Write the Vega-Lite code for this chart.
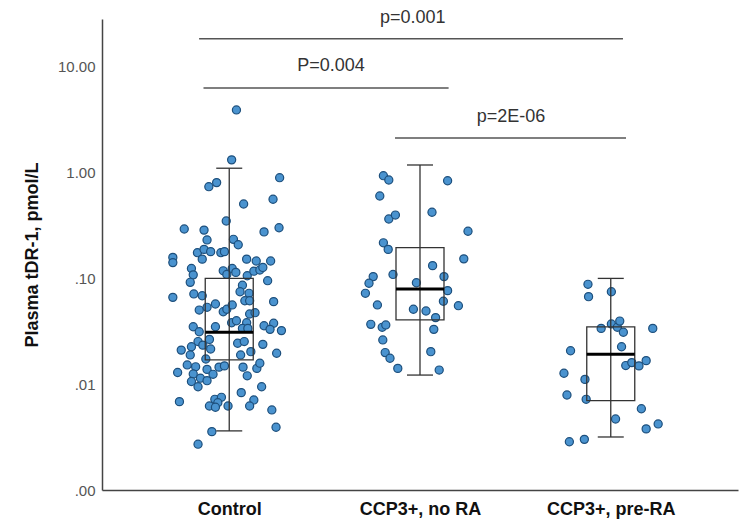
{
"$schema": "https://vega.github.io/schema/vega-lite/v6.json",
"width": 636, "height": 471,
"autosize": "none",
"padding": {"left": 102, "top": 19, "right": 4, "bottom": 40},
"background": "white",
"config": {"view": {"stroke": null}, "font": "Liberation Sans"},
"datasets": {
"points": [
{"group":"Control","value":3.91,"jitter":0.12},{"group":"Control","value":1.32,"jitter":0.04},{"group":"Control","value":0.895,"jitter":0.84},{"group":"Control","value":0.736,"jitter":-0.34},{"group":"Control","value":0.804,"jitter":-0.21},{"group":"Control","value":0.56,"jitter":0.73},{"group":"Control","value":0.505,"jitter":0.24},{"group":"Control","value":0.349,"jitter":-0.05},{"group":"Control","value":0.293,"jitter":-0.75},{"group":"Control","value":0.286,"jitter":-0.42},
{"group":"Control","value":0.301,"jitter":0.83},{"group":"Control","value":0.275,"jitter":0.58},{"group":"Control","value":0.231,"jitter":-0.37},{"group":"Control","value":0.234,"jitter":0.07},{"group":"Control","value":0.208,"jitter":0.15},{"group":"Control","value":0.158,"jitter":-0.94},{"group":"Control","value":0.141,"jitter":-0.94},{"group":"Control","value":0.175,"jitter":-0.53},{"group":"Control","value":0.188,"jitter":-0.42},{"group":"Control","value":0.179,"jitter":-0.31},
{"group":"Control","value":0.152,"jitter":-0.45},{"group":"Control","value":0.175,"jitter":-0.14},{"group":"Control","value":0.179,"jitter":-0.08},{"group":"Control","value":0.152,"jitter":0.29},{"group":"Control","value":0.146,"jitter":0.45},{"group":"Control","value":0.146,"jitter":0.69},{"group":"Control","value":0.124,"jitter":-0.63},{"group":"Control","value":0.108,"jitter":-0.6},{"group":"Control","value":0.0918,"jitter":-0.65},{"group":"Control","value":0.118,"jitter":-0.1},
{"group":"Control","value":0.109,"jitter":-0.04},{"group":"Control","value":0.124,"jitter":0.05},{"group":"Control","value":0.114,"jitter":0.11},{"group":"Control","value":0.106,"jitter":0.3},{"group":"Control","value":0.117,"jitter":0.41},{"group":"Control","value":0.12,"jitter":0.51},{"group":"Control","value":0.127,"jitter":0.56},{"group":"Control","value":0.0951,"jitter":0.64},{"group":"Control","value":0.0713,"jitter":-0.59},{"group":"Control","value":0.0685,"jitter":-0.45},
{"group":"Control","value":0.0662,"jitter":-0.94},{"group":"Control","value":0.0861,"jitter":0.22},{"group":"Control","value":0.0723,"jitter":0.33},{"group":"Control","value":0.0603,"jitter":0.74},{"group":"Control","value":0.0748,"jitter":0.18},{"group":"Control","value":0.0615,"jitter":0.26},{"group":"Control","value":0.0615,"jitter":0.34},{"group":"Control","value":0.0502,"jitter":-0.5},{"group":"Control","value":0.0533,"jitter":-0.37},{"group":"Control","value":0.0573,"jitter":-0.23},
{"group":"Control","value":0.0484,"jitter":-0.1},{"group":"Control","value":0.0511,"jitter":-0.04},{"group":"Control","value":0.0561,"jitter":0.05},{"group":"Control","value":0.0461,"jitter":0.34},{"group":"Control","value":0.0474,"jitter":0.43},{"group":"Control","value":0.0381,"jitter":0.04},{"group":"Control","value":0.0398,"jitter":0.12},{"group":"Control","value":0.0381,"jitter":0.29},{"group":"Control","value":0.0349,"jitter":-0.6},{"group":"Control","value":0.0313,"jitter":-0.5},
{"group":"Control","value":0.0349,"jitter":-0.23},{"group":"Control","value":0.0337,"jitter":0.22},{"group":"Control","value":0.0337,"jitter":0.31},{"group":"Control","value":0.0357,"jitter":0.58},{"group":"Control","value":0.0377,"jitter":0.74},{"group":"Control","value":0.033,"jitter":0.68},{"group":"Control","value":0.0321,"jitter":0.87},{"group":"Control","value":0.0265,"jitter":-0.33},{"group":"Control","value":0.0253,"jitter":-0.52},{"group":"Control","value":0.0244,"jitter":0.14},
{"group":"Control","value":0.0253,"jitter":0.25},{"group":"Control","value":0.0238,"jitter":0.56},{"group":"Control","value":0.021,"jitter":-0.8},{"group":"Control","value":0.0226,"jitter":-0.63},{"group":"Control","value":0.0234,"jitter":-0.44},{"group":"Control","value":0.0215,"jitter":-0.31},{"group":"Control","value":0.0189,"jitter":-0.65},{"group":"Control","value":0.0173,"jitter":-0.39},{"group":"Control","value":0.0189,"jitter":0.19},{"group":"Control","value":0.0203,"jitter":0.36},
{"group":"Control","value":0.0196,"jitter":0.79},{"group":"Control","value":0.0152,"jitter":-0.7},{"group":"Control","value":0.0146,"jitter":-0.56},{"group":"Control","value":0.0138,"jitter":-0.37},{"group":"Control","value":0.0145,"jitter":-0.17},{"group":"Control","value":0.0149,"jitter":-0.08},{"group":"Control","value":0.0145,"jitter":0.23},{"group":"Control","value":0.0141,"jitter":0.46},{"group":"Control","value":0.0158,"jitter":0.51},{"group":"Control","value":0.0129,"jitter":-0.86},
{"group":"Control","value":0.0125,"jitter":-0.6},{"group":"Control","value":0.0124,"jitter":-0.27},{"group":"Control","value":0.012,"jitter":0.3},{"group":"Control","value":0.0106,"jitter":-0.63},{"group":"Control","value":0.0114,"jitter":-0.48},{"group":"Control","value":0.0108,"jitter":-0.37},{"group":"Control","value":0.00946,"jitter":-0.52},{"group":"Control","value":0.00946,"jitter":0.54},{"group":"Control","value":0.00832,"jitter":0.2},{"group":"Control","value":0.00684,"jitter":-0.83},
{"group":"Control","value":0.0072,"jitter":-0.24},{"group":"Control","value":0.00752,"jitter":-0.13},{"group":"Control","value":0.00668,"jitter":-0.19},{"group":"Control","value":0.00622,"jitter":-0.33},{"group":"Control","value":0.00606,"jitter":-0.23},{"group":"Control","value":0.00622,"jitter":-0.02},{"group":"Control","value":0.0071,"jitter":0.41},{"group":"Control","value":0.00622,"jitter":0.34},{"group":"Control","value":0.00571,"jitter":0.71},{"group":"Control","value":0.00392,"jitter":0.78},
{"group":"Control","value":0.00356,"jitter":-0.29},{"group":"Control","value":0.00271,"jitter":-0.52},
{"group":"CCP3+, no RA","value":0.935,"jitter":-0.61},{"group":"CCP3+, no RA","value":0.851,"jitter":-0.52},{"group":"CCP3+, no RA","value":0.838,"jitter":0.46},{"group":"CCP3+, no RA","value":0.601,"jitter":-0.67},{"group":"CCP3+, no RA","value":0.422,"jitter":0.2},{"group":"CCP3+, no RA","value":0.364,"jitter":-0.52},{"group":"CCP3+, no RA","value":0.397,"jitter":-0.41},{"group":"CCP3+, no RA","value":0.279,"jitter":0.8},{"group":"CCP3+, no RA","value":0.217,"jitter":-0.61},{"group":"CCP3+, no RA","value":0.188,"jitter":-0.53},
{"group":"CCP3+, no RA","value":0.153,"jitter":0.73},{"group":"CCP3+, no RA","value":0.132,"jitter":0.21},{"group":"CCP3+, no RA","value":0.104,"jitter":-0.78},{"group":"CCP3+, no RA","value":0.09,"jitter":-0.85},{"group":"CCP3+, no RA","value":0.0723,"jitter":-0.91},{"group":"CCP3+, no RA","value":0.109,"jitter":-0.45},{"group":"CCP3+, no RA","value":0.091,"jitter":-0.06},{"group":"CCP3+, no RA","value":0.104,"jitter":0.4},{"group":"CCP3+, no RA","value":0.0766,"jitter":0.46},{"group":"CCP3+, no RA","value":0.0561,"jitter":-0.71},
{"group":"CCP3+, no RA","value":0.0608,"jitter":0.39},{"group":"CCP3+, no RA","value":0.0552,"jitter":0.64},{"group":"CCP3+, no RA","value":0.0511,"jitter":-0.11},{"group":"CCP3+, no RA","value":0.0492,"jitter":0.1},{"group":"CCP3+, no RA","value":0.0426,"jitter":0.26},{"group":"CCP3+, no RA","value":0.0368,"jitter":-0.82},{"group":"CCP3+, no RA","value":0.0345,"jitter":-0.63},{"group":"CCP3+, no RA","value":0.0363,"jitter":-0.57},{"group":"CCP3+, no RA","value":0.033,"jitter":0.23},{"group":"CCP3+, no RA","value":0.0262,"jitter":-0.62},
{"group":"CCP3+, no RA","value":0.0199,"jitter":-0.58},{"group":"CCP3+, no RA","value":0.0176,"jitter":-0.5},{"group":"CCP3+, no RA","value":0.0203,"jitter":0.18},{"group":"CCP3+, no RA","value":0.0141,"jitter":-0.37},{"group":"CCP3+, no RA","value":0.0136,"jitter":0.32},
{"group":"CCP3+, pre-RA","value":0.0879,"jitter":-0.38},{"group":"CCP3+, pre-RA","value":0.0672,"jitter":-0.37},{"group":"CCP3+, pre-RA","value":0.0748,"jitter":0.01},{"group":"CCP3+, pre-RA","value":0.0337,"jitter":-0.16},{"group":"CCP3+, pre-RA","value":0.0371,"jitter":0.01},{"group":"CCP3+, pre-RA","value":0.0345,"jitter":0.11},{"group":"CCP3+, pre-RA","value":0.0395,"jitter":0.15},{"group":"CCP3+, pre-RA","value":0.031,"jitter":0.21},{"group":"CCP3+, pre-RA","value":0.0337,"jitter":0.7},{"group":"CCP3+, pre-RA","value":0.0226,"jitter":0.18},
{"group":"CCP3+, pre-RA","value":0.0207,"jitter":-0.67},{"group":"CCP3+, pre-RA","value":0.015,"jitter":0.25},{"group":"CCP3+, pre-RA","value":0.016,"jitter":0.35},{"group":"CCP3+, pre-RA","value":0.0149,"jitter":0.47},{"group":"CCP3+, pre-RA","value":0.0167,"jitter":0.59},{"group":"CCP3+, pre-RA","value":0.0127,"jitter":-0.78},{"group":"CCP3+, pre-RA","value":0.0111,"jitter":-0.43},{"group":"CCP3+, pre-RA","value":0.00791,"jitter":-0.73},{"group":"CCP3+, pre-RA","value":0.0072,"jitter":-0.41},{"group":"CCP3+, pre-RA","value":0.00586,"jitter":0.51},
{"group":"CCP3+, pre-RA","value":0.00469,"jitter":0.08},{"group":"CCP3+, pre-RA","value":0.00378,"jitter":0.59},{"group":"CCP3+, pre-RA","value":0.00421,"jitter":0.79},{"group":"CCP3+, pre-RA","value":0.00286,"jitter":-0.69},{"group":"CCP3+, pre-RA","value":0.00301,"jitter":-0.44}
],
"boxes": [
{"group":"Control","lo":0.00362,"q1":0.017,"median":0.031,"q3":0.1,"hi":1.1},
{"group":"CCP3+, no RA","lo":0.0122,"q1":0.0405,"median":0.0794,"q3":0.195,"hi":1.18},
{"group":"CCP3+, pre-RA","lo":0.00317,"q1":0.007,"median":0.0192,"q3":0.0348,"hi":0.1}
],
"sig": [
{"label":"p=0.001","x1":0.842,"x2":3.064,"yline":18.4,"xtext":1.962,"ytext":29.2},
{"label":"P=0.004","x1":0.865,"x2":2.15,"yline":6.32,"xtext":1.534,"ytext":10.2},
{"label":"p=2E-06","x1":1.869,"x2":3.08,"yline":2.12,"xtext":2.477,"ytext":3.38}
]
},
"resolve": {"scale": {"x": "independent"}},
"layer": [
{
"layer": [
{
"data": {"name": "points"},
"mark": {"type": "circle", "size": 66, "fill": "#4a93cf", "stroke": "#1d4f7c", "strokeWidth": 1.2, "opacity": 1, "fillOpacity": 1},
"encoding": {
"x": {"field": "group", "type": "nominal", "scale": {"type": "point", "domain": ["Control", "CCP3+, no RA", "CCP3+, pre-RA"], "padding": 0.667},
"axis": {"title": null, "labelAngle": 0, "labelFont": "Liberation Sans", "labelFontSize": 18, "labelFontWeight": "bold", "labelColor": "#111", "ticks": false, "tickSize": 0, "labelPadding": 10, "domainColor": "#444", "domainWidth": 1.5, "grid": false}},
"xOffset": {"field": "jitter", "type": "quantitative", "scale": {"domain": [-1, 1], "range": [-60, 60]}},
"y": {"field": "value", "type": "quantitative", "title": "Plasma tDR-1, pmol/L",
"scale": {"type": "log", "domain": [0.001, 28.3], "nice": false},
"axis": {"values": [0.001, 0.01, 0.1, 1, 10], "labelExpr": "datum.value >= 10 ? '10.00' : datum.value >= 1 ? '1.00' : datum.value >= 0.1 ? '.10' : datum.value >= 0.01 ? '.01' : '.00'", "labelFont": "Liberation Sans", "labelFontSize": 15, "labelColor": "#555", "ticks": false, "tickSize": 0, "labelPadding": 7, "domainColor": "#444", "domainWidth": 1.5, "grid": false, "titleFont": "Liberation Sans", "titleFontSize": 18, "titleFontWeight": "bold", "titleColor": "#111", "titlePadding": 16}}
}
},
{
"data": {"name": "boxes"},
"mark": {"type": "rule", "stroke": "#333", "strokeWidth": 1.3, "opacity": 1},
"encoding": {
"x": {"field": "group", "type": "nominal"},
"y": {"field": "lo", "type": "quantitative", "title": "Plasma tDR-1, pmol/L", "scale": {"type": "log", "domain": [0.001, 28.3], "nice": false}},
"y2": {"field": "hi"}
}
},
{
"data": {"name": "boxes"},
"mark": {"type": "bar", "width": 48, "fill": "white", "fillOpacity": 0, "stroke": "#333", "strokeWidth": 1.3, "strokeOpacity": 1},
"encoding": {
"x": {"field": "group", "type": "nominal"},
"y": {"field": "q1", "type": "quantitative", "title": "Plasma tDR-1, pmol/L", "scale": {"type": "log", "domain": [0.001, 28.3], "nice": false}},
"y2": {"field": "q3"}
}
},
{
"data": {"name": "boxes"},
"mark": {"type": "tick", "orient": "horizontal", "size": 26, "thickness": 1.3, "color": "#333", "opacity": 1},
"encoding": {
"x": {"field": "group", "type": "nominal"},
"y": {"field": "hi", "type": "quantitative", "title": "Plasma tDR-1, pmol/L", "scale": {"type": "log", "domain": [0.001, 28.3], "nice": false}}
}
},
{
"data": {"name": "boxes"},
"mark": {"type": "tick", "orient": "horizontal", "size": 26, "thickness": 1.3, "color": "#333", "opacity": 1},
"encoding": {
"x": {"field": "group", "type": "nominal"},
"y": {"field": "lo", "type": "quantitative", "title": "Plasma tDR-1, pmol/L", "scale": {"type": "log", "domain": [0.001, 28.3], "nice": false}}
}
},
{
"data": {"name": "boxes"},
"mark": {"type": "tick", "orient": "horizontal", "size": 48, "thickness": 3, "color": "#000", "opacity": 1},
"encoding": {
"x": {"field": "group", "type": "nominal"},
"y": {"field": "median", "type": "quantitative", "title": "Plasma tDR-1, pmol/L", "scale": {"type": "log", "domain": [0.001, 28.3], "nice": false}}
}
}
]
},
{
"data": {"name": "sig"},
"layer": [
{
"mark": {"type": "rule", "stroke": "#555", "strokeWidth": 1.5, "opacity": 1},
"encoding": {
"x": {"field": "x1", "type": "quantitative", "scale": {"domain": [0.333, 3.667], "nice": false, "zero": false}, "axis": null},
"x2": {"field": "x2"},
"y": {"field": "yline", "type": "quantitative", "title": "Plasma tDR-1, pmol/L", "scale": {"type": "log", "domain": [0.001, 28.3], "nice": false}}
}
},
{
"mark": {"type": "text", "font": "Liberation Sans", "fontSize": 18, "color": "#333", "align": "center", "baseline": "middle"},
"encoding": {
"x": {"field": "xtext", "type": "quantitative", "scale": {"domain": [0.333, 3.667], "nice": false, "zero": false}, "axis": null},
"y": {"field": "ytext", "type": "quantitative", "title": "Plasma tDR-1, pmol/L", "scale": {"type": "log", "domain": [0.001, 28.3], "nice": false}},
"text": {"field": "label"}
}
}
]
}
]
}
